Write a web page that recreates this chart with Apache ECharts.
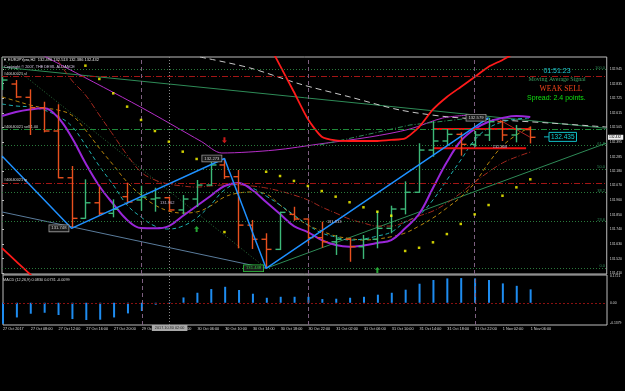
<!DOCTYPE html>
<html>
<head>
<meta charset="utf-8">
<script src="https://cdn.jsdelivr.net/npm/echarts@6.0.0/dist/echarts.min.js"></script>
<style>
  html, body { margin: 0; padding: 0; background: #000; }
  #chart { width: 625px; height: 391px; }
</style>
</head>
<body>
<div id="chart"></div>
<script>
// EURJPYpro H2 - bars by index (0 = 27 Oct, 38 = 1 Nov 06:00)
const xLabelIdx = [0, 2, 4, 6, 8, 10, 12, 14, 16, 18, 20, 22, 24, 26, 28, 30, 32, 34, 36, 38];
const xLabels = ["27 Oct 2017", "27 Oct 08:00", "27 Oct 12:00", "27 Oct 16:00", "27 Oct 20:00",
  "29 Oct 22:00", "30 Oct 02:00", "30 Oct 06:00", "30 Oct 10:00", "30 Oct 14:00", "30 Oct 18:00",
  "30 Oct 22:00", "31 Oct 02:00", "31 Oct 06:00", "31 Oct 10:00", "31 Oct 14:00", "31 Oct 18:00",
  "31 Oct 22:00", "1 Nov 02:00", "1 Nov 06:00"];

const opens = [132.802, 132.832, 132.732, 132.654, 132.479, 132.128, 131.823, 131.940, 131.861, 131.986,
  131.961, 131.968, 131.978, 131.886, 131.968, 132.073, 132.224, 132.136, 131.772, 131.666,
  131.590, 131.853, 131.818, 131.678, 131.647, 131.666, 131.610, 131.666, 131.748, 131.893,
  132.019, 132.336, 132.404, 132.454, 132.379, 132.449, 132.549, 132.449, 132.490];
const highs = [132.885, 132.862, 132.792, 132.699, 132.680, 132.216, 132.116, 132.061, 131.966, 132.091,
  132.068, 132.053, 131.986, 131.998, 132.111, 132.246, 132.273, 132.186, 131.811, 131.711,
  131.873, 131.910, 131.823, 131.798, 131.698, 131.678, 131.698, 131.878, 131.918, 132.101,
  132.387, 132.554, 132.494, 132.469, 132.479, 132.579, 132.554, 132.524, 132.513];
const lows = [132.787, 132.727, 132.449, 132.469, 132.124, 131.748, 131.820, 131.841, 131.831, 131.931,
  131.880, 131.873, 131.873, 131.853, 131.908, 132.066, 132.119, 131.598, 131.593, 131.448,
  131.585, 131.805, 131.636, 131.602, 131.548, 131.497, 131.518, 131.598, 131.711, 131.853,
  132.015, 132.286, 132.369, 132.294, 132.361, 132.404, 132.404, 132.394, 132.386];
const closes = [132.862, 132.735, 132.654, 132.479, 132.128, 131.823, 131.940, 131.861, 131.891, 131.946,
  131.983, 131.976, 131.886, 131.968, 132.073, 132.224, 132.136, 131.772, 131.666, 131.590,
  131.868, 131.818, 131.678, 131.647, 131.666, 131.610, 131.666, 131.748, 131.893, 132.019,
  132.336, 132.404, 132.454, 132.379, 132.449, 132.549, 132.449, 132.494, 132.432];

// moving averages
const maPurple = [132.592, 132.622, 132.641, 132.650, 132.584, 132.434, 132.239, 132.066, 131.931, 131.811,
  131.750, 131.748, 131.765, 131.841, 131.916, 131.991, 132.066, 132.089, 132.036, 131.946,
  131.856, 131.765, 131.720, 131.660, 131.623, 131.610, 131.619, 131.638, 131.660, 131.748,
  131.856, 132.051, 132.246, 132.404, 132.494, 132.549, 132.577, 132.592, 132.584];
const maCyan = [132.682, 132.667, 132.660, 132.637, 132.592, 132.517, 132.374, 132.216, 132.074, 131.923,
  131.833, 131.765, 131.743, 131.765, 131.826, 131.923, 132.036, 132.081, 132.051, 131.991,
  131.923, 131.848, 131.773, 131.713, 131.683, 131.660, 131.668, 131.690, 131.720, 131.796,
  131.848, 131.961, 132.111, 132.261, 132.412, 132.502, 132.547, 132.569, 132.577];
const maOlive = [132.735, 132.705, 132.675, 132.652, 132.637, 132.599, 132.487, 132.351, 132.224, 132.096,
  131.998, 131.923, 131.878, 131.863, 131.871, 131.916, 131.983, 132.013, 132.021, 132.006,
  131.923, 131.841, 131.773, 131.728, 131.690, 131.672, 131.660, 131.668, 131.685, 131.713,
  131.765, 131.826, 131.901, 131.983, 132.089, 132.239, 132.367, 132.449, 132.509];
const maRed = ['-', '-', '-', '-', 133.013, 132.862, 132.750, 132.599, 132.449, 132.299,
  132.171, 132.111, 132.081, 132.066, 132.058, 132.066, 132.074, 132.074, 132.066, 132.051,
  132.028, 131.998, 131.961, 131.908, 131.863, 131.818, 131.788, 131.765, 131.765, 131.796,
  131.841, 131.878, 131.938, 132.013, 132.096, 132.171, 132.239, 132.284, 132.321];
// thick red indicator (leaves the window between bars 3 and 18)
const redLine = [131.600, 131.502, 131.405, 131.300, '-', '-', '-', '-', '-', '-',
  '-', '-', '-', '-', '-', '-', '-', '-', 133.373, 133.170,
  132.970, 132.772, 132.569, 132.436, 132.408, 132.404, 132.404, 132.404, 132.412, 132.424,
  132.509, 132.641, 132.735, 132.810, 132.885, 132.962, 133.013, 133.073, '-'];
// parabolic sar
const sar = ['-', '-', '-', '-', '-', '-', 132.970, 132.870, 132.762, 132.662,
  132.562, 132.479, 132.399, 132.324, 132.269, '-', 131.720, '-', '-', 132.173,
  132.141, 132.104, 132.066, 132.028, 131.986, 131.944, 131.906, 131.873, 131.843, 131.578,
  131.602, 131.643, 131.705, 131.781, 131.853, 131.923, 131.993, 132.056, 132.116];

const zigzag = [[0, 132.291], [5, 131.748], [16, 132.273], [19, 131.448], [35, 132.579]];

const macd = [-0.130, -0.091, -0.068, -0.062, -0.076, -0.101, -0.107, -0.105, -0.091, -0.066,
  -0.051, -0.012, 0.003, 0.033, 0.062, 0.085, 0.099, 0.079, 0.056, 0.031,
  0.037, 0.037, 0.037, 0.023, 0.025, 0.031, 0.037, 0.050, 0.062, 0.081,
  0.118, 0.141, 0.151, 0.153, 0.151, 0.141, 0.120, 0.105, 0.083];

const yTicks = [132.945, 132.835, 132.725, 132.615, 132.505, 132.395, 132.285, 132.180,
  132.070, 131.960, 131.850, 131.740, 131.630, 131.520, 131.410];
const macdTicks = [-0.1379, 0, 0.1721];

// fibo from the 131.448 low
const fibLow = 131.448, fibHigh = 132.940;
const fibLevels = [0, 23.6, 38.2, 50, 61.8, 100];

// order lines
const orders = [
  { price: 132.887, text: "#40640021 sl", color: "#a31515" },
  { price: 132.494, text: "#40640021 sell 1.00", color: "#1f8a3a" },
  { price: 132.089, text: "#40640021 tp", color: "#a31515" }
];
const daySeparators = [10, 22, 34];
const crossBar = 12;

// drawn objects [bar, price]
const greenTrend = [[0, 132.959], [43.5, 132.499]];
const greenRise = [[19, 131.448], [43.5, 132.389]];
const greenDotted = [[0, 133.028], [19, 131.448]];
const blueGray = [[0, 131.871], [19, 131.448]];
const magentaLine = [[2.0, 133.10], [4.65, 132.953], [9.92, 132.662], [14.36, 132.399], [15.81, 132.314],
  [19.63, 132.336], [22.86, 132.382], [26.46, 132.434], [29.34, 132.494], [31.71, 132.577], [33.65, 132.599]];
const greenDashDot = [[22.86, 132.374], [29.34, 132.524], [34.37, 132.584]];
const whiteDashed = [[14.24, 133.035], [17.83, 132.953], [21.43, 132.832], [25.02, 132.735], [28.62, 132.637],
  [32.21, 132.584], [35.81, 132.562], [39.40, 132.539], [43.5, 132.509]];
const redShort = [[35.8, 132.562], [37.96, 132.434]];
const boxTop = [[31, 132.494], [38, 132.494]];
const boxBottom = [[31, 132.349], [37.7, 132.349]];
const arrowsUp = [[14, 131.743], [27, 131.435]];
const arrowsDown = [[16, 132.410]];
const notes = [[11.36, 131.938, "131.962"], [23.37, 131.795, "131.813"], [35.3, 132.363, "132.308"]];
const bidPrice = 132.435;

const upColor = "#3cb878";
const downColor = "#e8501e";
const FONT = '"Liberation Sans", Arial, sans-serif';

let chart = echarts.init(document.getElementById("chart"));

function idx(arr) {
  return arr.map(function (v, i) { return [i, v]; });
}

function seg(pts, color, width, type, z, smooth) {
  return {
    type: "line", xAxisIndex: 0, yAxisIndex: 0, data: pts, symbol: "none", silent: true,
    smooth: smooth || false,
    lineStyle: { color: color, width: width, type: type || "solid" }, z: z || 2
  };
}

// mt4 style bar: high-low stick, open tick left, close tick right
function renderBar(params, api) {
  let i = api.value(0);
  let o = api.coord([i, api.value(1)]);
  let h = api.coord([i, api.value(2)]);
  let l = api.coord([i, api.value(3)]);
  let c = api.coord([i, api.value(4)]);
  let color = api.value(4) >= api.value(1) ? upColor : downColor;
  let cx = Math.round(o[0]) + 0.5;
  let st = { stroke: color, lineWidth: 1.4 };
  return {
    type: "group",
    children: [
      { type: "line", shape: { x1: cx, y1: h[1], x2: cx, y2: l[1] }, style: st },
      { type: "line", shape: { x1: cx - 5, y1: o[1], x2: cx, y2: o[1] }, style: st },
      { type: "line", shape: { x1: cx, y1: c[1], x2: cx + 5, y2: c[1] }, style: st }
    ]
  };
}

let bars = opens.map(function (o, i) { return [i, o, highs[i], lows[i], closes[i]]; });
let fibPrices = fibLevels.map(function (l) { return fibLow + (fibHigh - fibLow) * l / 100; });

let sepLines = daySeparators.map(function (b) {
  return { xAxis: b, lineStyle: { color: "#7d5f80", type: [4, 3], width: 1 } };
});
sepLines.push({ xAxis: crossBar, lineStyle: { color: "#8a8a8a", type: [1, 2], width: 1 } });

let arrowUp = "path://M5,0 L10,5 L7,5 L7,11 L3,11 L3,5 L0,5 Z";

let option = {
  backgroundColor: "#000",
  animation: false,
  grid: [
    { left: 2, top: 57, width: 605, height: 217, show: true, borderColor: "#bdbdbd", borderWidth: 1 },
    { left: 2, top: 275, width: 605, height: 50, show: true, borderColor: "#bdbdbd", borderWidth: 1 }
  ],
  xAxis: [
    { type: "value", gridIndex: 0, min: 0, max: 43.5, show: false },
    {
      type: "value", gridIndex: 1, min: 0, max: 43.5,
      axisLine: { show: false }, axisTick: { show: false }, splitLine: { show: false },
      axisLabel: {
        customValues: xLabelIdx,
        formatter: function (v) { return xLabels[xLabelIdx.indexOf(Math.round(v))] || ""; },
        color: "#d8d8d8", fontSize: 3.8, fontFamily: FONT, align: "left", margin: 2
      }
    }
  ],
  yAxis: [
    {
      type: "value", gridIndex: 0, position: "right", min: 131.405, max: 133.035, scale: true,
      splitLine: { show: false }, axisLine: { show: false },
      axisTick: { show: true, customValues: yTicks, length: 2, lineStyle: { color: "#bdbdbd" } },
      axisLabel: {
        customValues: yTicks,
        formatter: function (v) { return v.toFixed(3); },
        color: "#d8d8d8", fontSize: 3.4, fontFamily: FONT, margin: 3
      }
    },
    {
      type: "value", gridIndex: 1, position: "right", min: -0.1379, max: 0.1721,
      splitLine: { show: false }, axisLine: { show: false }, axisTick: { show: false },
      axisLabel: {
        customValues: macdTicks,
        formatter: function (v) { return v === 0 ? "0.00" : v.toFixed(4); },
        color: "#d8d8d8", fontSize: 3.4, fontFamily: FONT, margin: 3,
        verticalAlignMinLabel: "bottom", verticalAlignMaxLabel: "top"
      }
    }
  ],
  series: [
    // fibo levels, order lines, separators
    {
      type: "line", xAxisIndex: 0, yAxisIndex: 0, data: [], silent: true,
      markLine: {
        silent: true, symbol: ["none", "none"], label: { show: false },
        data: fibPrices.map(function (p) {
          return { yAxis: p, lineStyle: { color: "#2a7a3c", type: [1, 2], width: 1 } };
        }).concat(orders.map(function (o) {
          return { yAxis: o.price, lineStyle: { color: o.color, type: [6, 2, 1, 2], width: 1 } };
        })).concat(sepLines)
      },
      z: 1
    },
    seg(greenTrend, "#2e8b57", 1),
    seg(greenRise, "#2e8b57", 1),
    seg(greenDotted, "#2a6e3a", 1, [1, 2]),
    seg(blueGray, "#5a7c9c", 1),
    seg(magentaLine, "#b52ec8", 1, "solid", 2, 0.3),
    seg(greenDashDot, "#2e8b57", 1, [5, 2, 1, 2]),
    seg(whiteDashed, "#c8c8c8", 1, [6, 4], 2, 0.3),
    seg(redShort, "#b22222", 1),
    seg(idx(maOlive), "#b8860b", 1, [4, 3], 3, 0.4),
    seg(idx(maCyan), "#1fb0b0", 1, [4, 3], 3, 0.4),
    seg(idx(maRed), "#a5281e", 1, [6, 2, 1, 2], 3, 0.4),
    seg(idx(maPurple), "#9a26d9", 2, "solid", 4, 0.4),
    seg(idx(redLine), "#ff1a1a", 1.8, "solid", 4, 0.2),
    seg(boxTop, "#e81010", 2, "solid", 4),
    seg(boxBottom, "#e81010", 2, "solid", 4),
    {
      type: "custom", xAxisIndex: 0, yAxisIndex: 0, data: bars, renderItem: renderBar,
      clip: true, silent: true, z: 5
    },
    seg(zigzag, "#1e90ff", 1.5, "solid", 6),
    {
      type: "scatter", xAxisIndex: 0, yAxisIndex: 0, data: idx(sar), symbol: "rect",
      symbolSize: 2.5, itemStyle: { color: "#ffff00" }, silent: true, z: 6
    },
    {
      type: "scatter", xAxisIndex: 0, yAxisIndex: 0, data: arrowsUp, symbol: arrowUp,
      symbolSize: [5, 6], itemStyle: { color: "#2ecc40" }, silent: true, z: 6
    },
    {
      type: "scatter", xAxisIndex: 0, yAxisIndex: 0, data: arrowsDown, symbol: arrowUp,
      symbolRotate: 180, symbolSize: [5, 6], itemStyle: { color: "#ff2020" }, silent: true, z: 6
    },
    // macd
    {
      type: "bar", xAxisIndex: 1, yAxisIndex: 1, data: idx(macd), barWidth: 2,
      itemStyle: { color: "#1e8cf0" }, silent: true,
      markLine: {
        silent: true, symbol: ["none", "none"], label: { show: false },
        data: [{ yAxis: 0, lineStyle: { color: "#8b1010", type: [2, 2], width: 1 } }].concat(sepLines)
      }
    }
  ]
};
chart.setOption(option);

// texts placed from prices
function px(i, p) {
  return chart.convertToPixel({ xAxisIndex: 0, yAxisIndex: 0 }, [i, p]);
}
function txt(x, y, text, fill, size, extra) {
  let s = Object.assign({ text: text, fill: fill, font: size + "px " + FONT, verticalAlign: "middle" }, extra || {});
  return { type: "text", x: x, y: y, style: s, z: 100, silent: true };
}

let gfx = [];
gfx.push(txt(3, 60, "\u25BC EURJPYpro,H2  132.490 132.513 132.386 132.432", "#e8e8e8", 4));
gfx.push(txt(4, 66.5, "Copyright \u00A9 2007, THE DEVIL ALLIANCE", "#d9c9e9", 3.8));
gfx.push(txt(557, 71, "01:51:23", "#1ec8d8", 7, { align: "center" }));
gfx.push(txt(557, 79.5, "Moving Average Signal", "#3aa060", 6, { align: "center", font: '6px "Liberation Serif", serif' }));
gfx.push(txt(561, 89, "WEAK SELL", "#f0441a", 7.6, { align: "center", font: '7.6px "Liberation Serif", serif' }));
gfx.push(txt(527, 98, "Spread: 2.4 points.", "#10e010", 7));
gfx.push(txt(3, 280, "MACD (12,26,9) 0.0830 0.0731 -0.0099", "#d8d8d8", 3.8));

orders.forEach(function (o) {
  gfx.push(txt(4, px(0, o.price)[1] - 2.5, o.text, "#d8d8d8", 3.8));
});
fibLevels.forEach(function (l, k) {
  gfx.push(txt(605, px(0, fibPrices[k])[1] - 2, l.toFixed(1), "#2e8b57", 4, { align: "right" }));
});
zigzag.slice(1).forEach(function (z) {
  let p = px(z[0], z[1]);
  let green = z[0] === 19;
  gfx.push(txt(p[0] - 3, p[1], z[1].toFixed(3), green ? "#2ecc40" : "#d0d0d0", 4.2, {
    align: "right", backgroundColor: "#1a1a1a", borderColor: green ? "#2ecc40" : "#9a9a9a",
    borderWidth: 0.8, padding: [1, 2]
  }));
});
notes.forEach(function (n) {
  let p = px(n[0], n[1]);
  gfx.push(txt(p[0], p[1], n[2], "#c6b4d2", 4));
});

// bid box and current price tag
let bidY = px(0, bidPrice)[1];
gfx.push({ type: "line", shape: { x1: 544, y1: bidY, x2: 549, y2: bidY }, style: { stroke: "#10c0c8" }, z: 100 });
gfx.push(txt(549, bidY, bidPrice.toFixed(3), "#10d0d8", 6.5, { borderColor: "#10c0c8", borderWidth: 1, padding: [1, 2] }));
let lastY = px(0, closes[closes.length - 1])[1];
gfx.push(txt(608, lastY, closes[closes.length - 1].toFixed(3), "#000", 3.4, { backgroundColor: "#f0f0f0", padding: [1, 2, 1, 1] }));

// crosshair time box
let cx = chart.convertToPixel({ xAxisIndex: 1, yAxisIndex: 1 }, [crossBar, 0])[0];
gfx.push(txt(cx, 328, "2017.10.30 02:00", "#202020", 3.8, { align: "center", backgroundColor: "#a8a8a8", padding: [1, 3] }));

chart.setOption({ graphic: gfx });
</script>
</body>
</html>
